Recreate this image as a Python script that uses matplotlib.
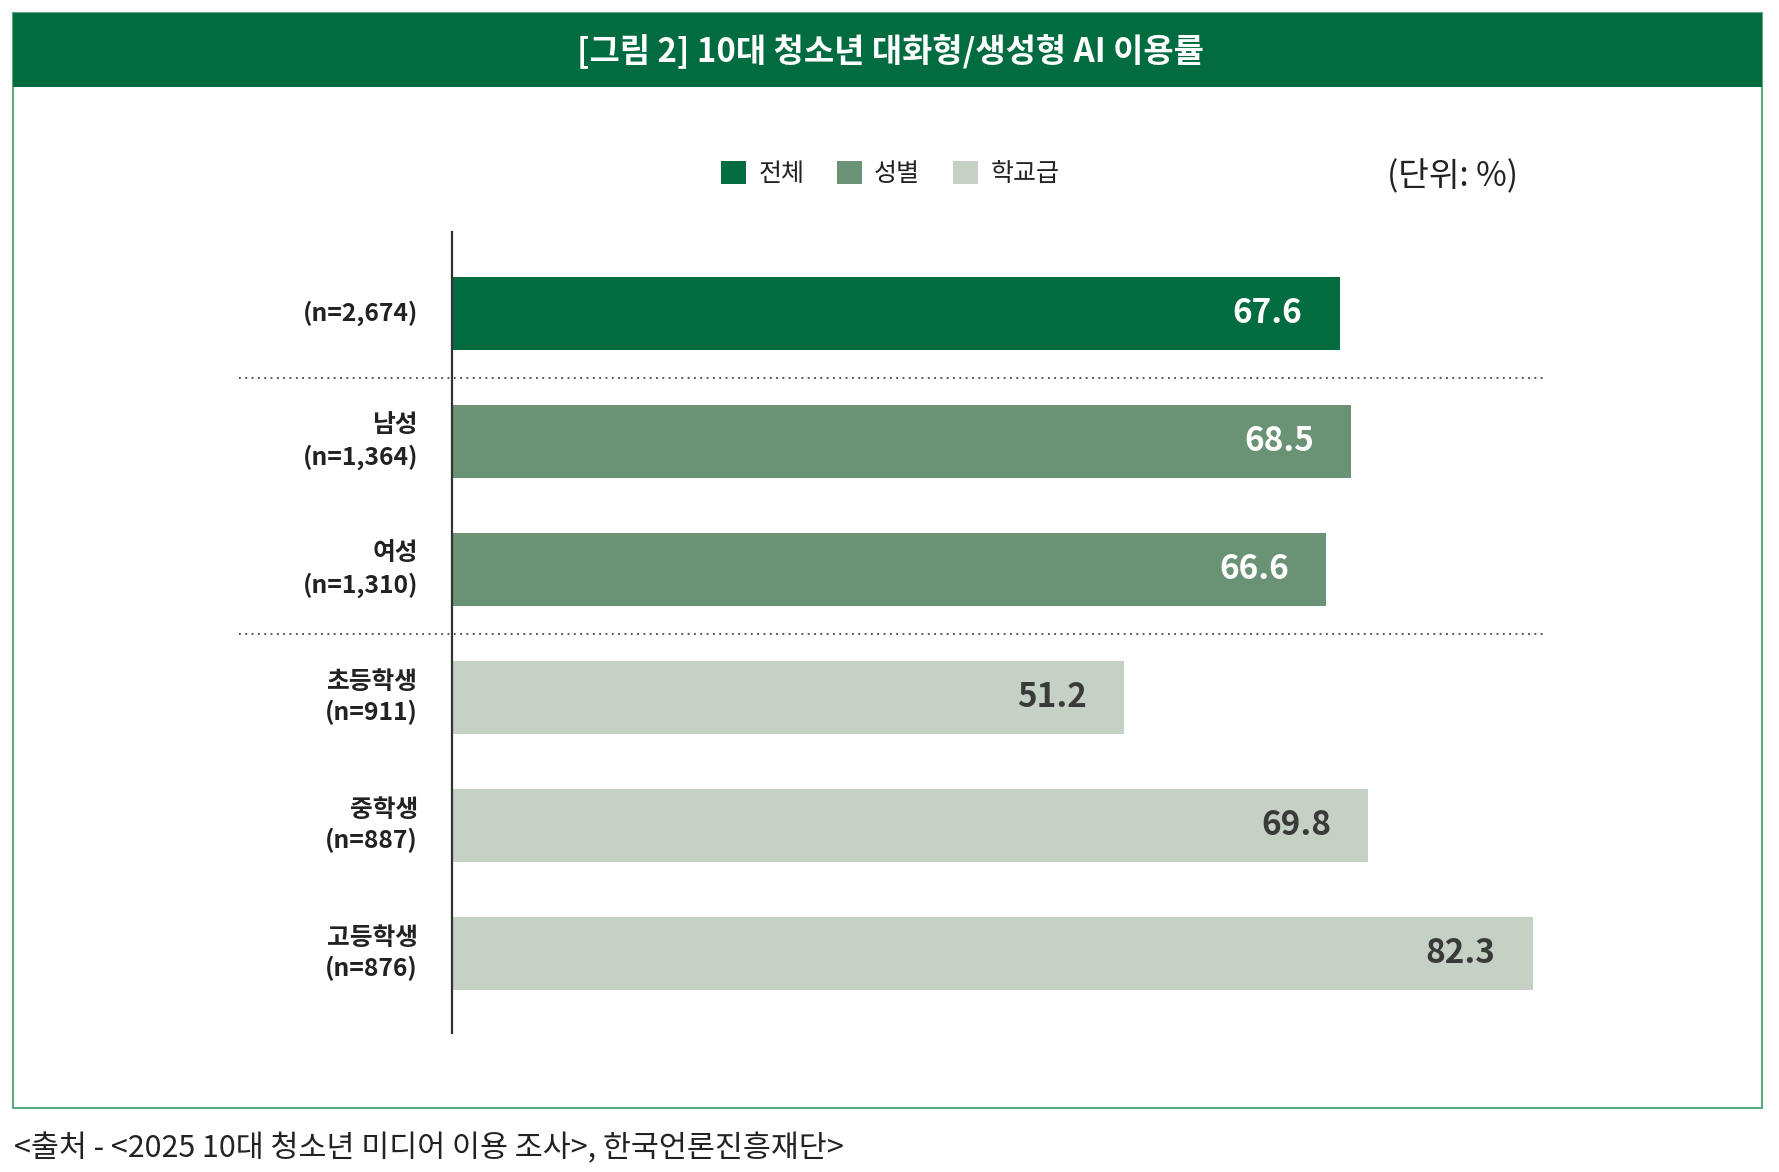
import matplotlib
matplotlib.use("Agg")
import matplotlib.pyplot as plt
from matplotlib.patches import Rectangle

plt.rcParams['font.family'] = ['Noto Sans CJK KR', 'DejaVu Sans']

# data
categories = ["(n=2,674)", "남성\n(n=1,364)", "여성\n(n=1,310)",
              "초등학생\n(n=911)", "중학생\n(n=887)", "고등학생\n(n=876)"]
values = [67.6, 68.5, 66.6, 51.2, 69.8, 82.3]
groups = ["전체", "성별", "성별", "학교급", "학교급", "학교급"]
legend_names = ["전체", "성별", "학교급"]

title = "[그림 2] 10대 청소년 대화형/생성형 AI 이용률"
unit_text = "(단위: %)"
source_text = "<출처 - <2025 10대 청소년 미디어 이용 조사>, 한국언론진흥재단>"

group_colors = {"전체": "#006c3f", "성별": "#6a9375", "학교급": "#c5d1c5"}
value_colors = {"전체": "white", "성별": "white", "학교급": "#3a3a3a"}

W, H = 1779, 1172
fig = plt.figure(figsize=(W / 100, H / 100), dpi=100)

# background layer in pixel coordinates
bg = fig.add_axes([0, 0, 1, 1])
bg.set_xlim(0, W)
bg.set_ylim(H, 0)
bg.axis('off')

bg.add_patch(Rectangle((13, 13), 1749, 1095, facecolor='white',
                       edgecolor='#5fa882', linewidth=1.5))
bg.add_patch(Rectangle((13, 13), 1749, 74, facecolor='#006c3f', edgecolor='none'))
bg.text(890, 51, title, color='white', fontsize=23.7, fontweight='bold',
        ha='center', va='center')
bg.text(1518, 177, unit_text, color='#222222', fontsize=24, ha='right', va='center')
bg.text(14, 1149, source_text, color='#222222', fontsize=21.9, ha='left', va='center')

# bar chart area
px_per_unit = 13.13
left_px, top_px, bottom_px = 452, 232, 1033
width_px = 1300
ax = fig.add_axes([left_px / W, 1 - bottom_px / H, width_px / W, (bottom_px - top_px) / H])
ax.patch.set_alpha(0)
ax.set_xlim(0, width_px / px_per_unit)
ax.set_ylim(5.621, -0.637)

y = list(range(len(values)))
colors = [group_colors[g] for g in groups]
bars = ax.barh(y, values, height=0.57, color=colors)

for sp in ['top', 'right', 'bottom']:
    ax.spines[sp].set_visible(False)
ax.spines['left'].set_color('#333333')
ax.spines['left'].set_linewidth(1.6)
ax.set_xticks([])
ax.set_yticks([])

off = 37 / px_per_unit
for yi, v, g in zip(y, values, groups):
    ax.text(v - off, yi, f"{v:.1f}", color=value_colors[g], fontsize=24,
            fontweight='bold', ha='right', va='center')

lab_off = 34 / px_per_unit
for yi, lab in zip(y, categories):
    ax.text(-lab_off, yi, lab, color='#222222', fontsize=17.8, fontweight='bold',
            ha='right', va='center', multialignment='right', linespacing=1.32)

# dotted separators between groups
for sep in [0.5, 2.5]:
    ax.hlines(sep, (239 - left_px) / px_per_unit, (1545 - left_px) / px_per_unit,
              colors='#444444', linestyles=(0, (1, 2.5)), linewidth=1.3, clip_on=False)

# legend
handles = [bars[groups.index(n)] for n in legend_names]
fig.legend(handles, legend_names, loc='center', bbox_to_anchor=(890 / W, 1 - 174 / H),
           ncol=3, frameon=False, fontsize=18, handlelength=1.0, handleheight=1.0,
           handletextpad=0.5, columnspacing=1.3, borderpad=0, labelcolor='#222222')

fig.savefig("out.png", dpi=100)
